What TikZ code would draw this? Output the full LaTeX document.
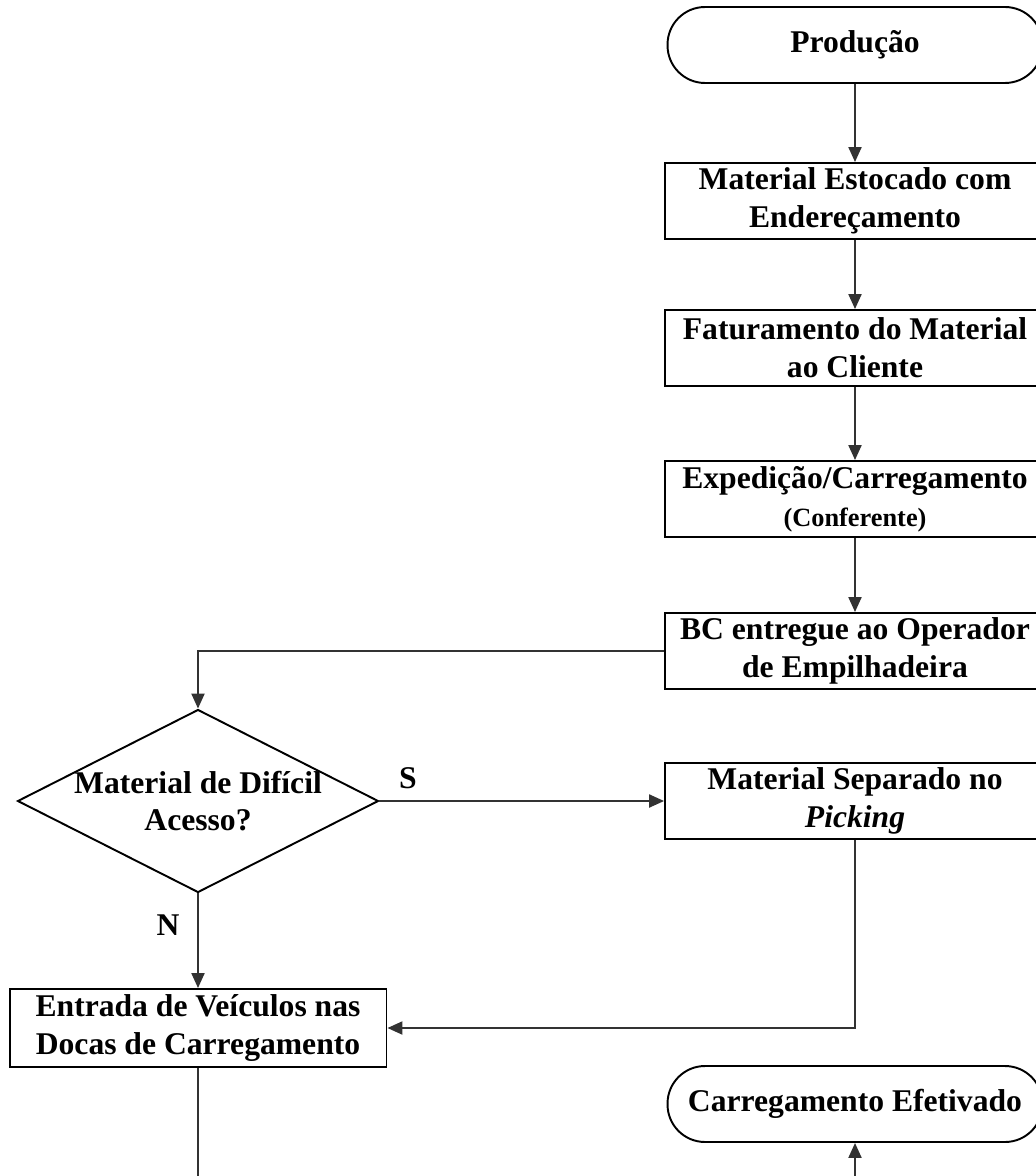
\documentclass[tikz,border=0pt]{standalone}
\usepackage{fontspec}
\setmainfont{Liberation Serif}
\usepackage{tikz}
\usetikzlibrary{shapes.geometric,arrows.meta,positioning}
\definecolor{linecolor}{RGB}{50,50,50}

\begin{document}
\begin{tikzpicture}[
        x=0.02cm, y=-0.02cm,
        passo/.style={rectangle, draw=black, line width=1.1pt, fill=white, minimum width=7.6cm, minimum height=1.52cm, align=center, font=\fontsize{18}{21.5}\selectfont\bfseries, inner sep=2pt},
        term/.style={rectangle, rounded corners=0.75cm, draw=black, line width=1.1pt, minimum width=7.5cm, minimum height=1.52cm, align=center, font=\fontsize{18}{21.5}\selectfont\bfseries},
        decisao/.style={diamond, draw=black, line width=1.1pt, minimum width=7.22cm, minimum height=3.66cm, inner sep=0pt},
        arrow/.style={-{Triangle[length=0.3cm,width=0.26cm]}, line width=1.2pt, draw=linecolor},
        linha/.style={line width=1.2pt, draw=linecolor},
        rotulo/.style={font=\fontsize{18}{21.5}\selectfont\bfseries}
    ]
        \useasboundingbox (0,0) rectangle (1035,1176);

        \node[term] (producao) at (855,45) {Produção};
        \node[passo] (estocado) at (855,201) {Material Estocado com\\Endereçamento};
        \node[passo] (faturamento) at (855,348) {Faturamento do Material\\ao Cliente};
        \node[passo] (expedicao) at (855,499) {Expedição/Carregamento\\{\fontsize{15}{17}\selectfont (Conferente)}};
        \node[passo] (operador) at (855,651) {BC entregue ao Operador\\de Empilhadeira};

        \node[decisao, label={[rotulo, align=center]center:Material de Difícil\\Acesso?}] (dificil) at (198,801) {};
        \node[passo] (picking) at (855,801) {Material Separado no\\\textit{Picking}};

        \node[passo, minimum width=7.54cm, minimum height=1.56cm] (docas) at (198,1028) {Entrada de Veículos nas\\Docas de Carregamento};
        \node[term] (efetivado) at (855,1104) {Carregamento Efetivado};

        \coordinate (fimdocas) at (198,1176);
        \coordinate (inicioefet) at (855,1176);

        \draw[arrow] (producao) -- (estocado);
        \draw[arrow] (estocado) -- (faturamento);
        \draw[arrow] (faturamento) -- (expedicao);
        \draw[arrow] (expedicao) -- (operador);
        \draw[arrow] (operador.west) -| (dificil.north);
        \draw[arrow] (dificil.east) -- (picking.west);
        \draw[arrow] (dificil.south) -- (docas.north);
        \draw[arrow] (picking.south) |- (docas.east);
        \draw[linha] (docas.south) -- (fimdocas);
        \draw[arrow] (inicioefet) -- (efetivado.south);

        \node[rotulo] (sim) at (408,778) {S};
        \node[rotulo] (nao) at (168,925) {N};
    \end{tikzpicture}
\end{document}
